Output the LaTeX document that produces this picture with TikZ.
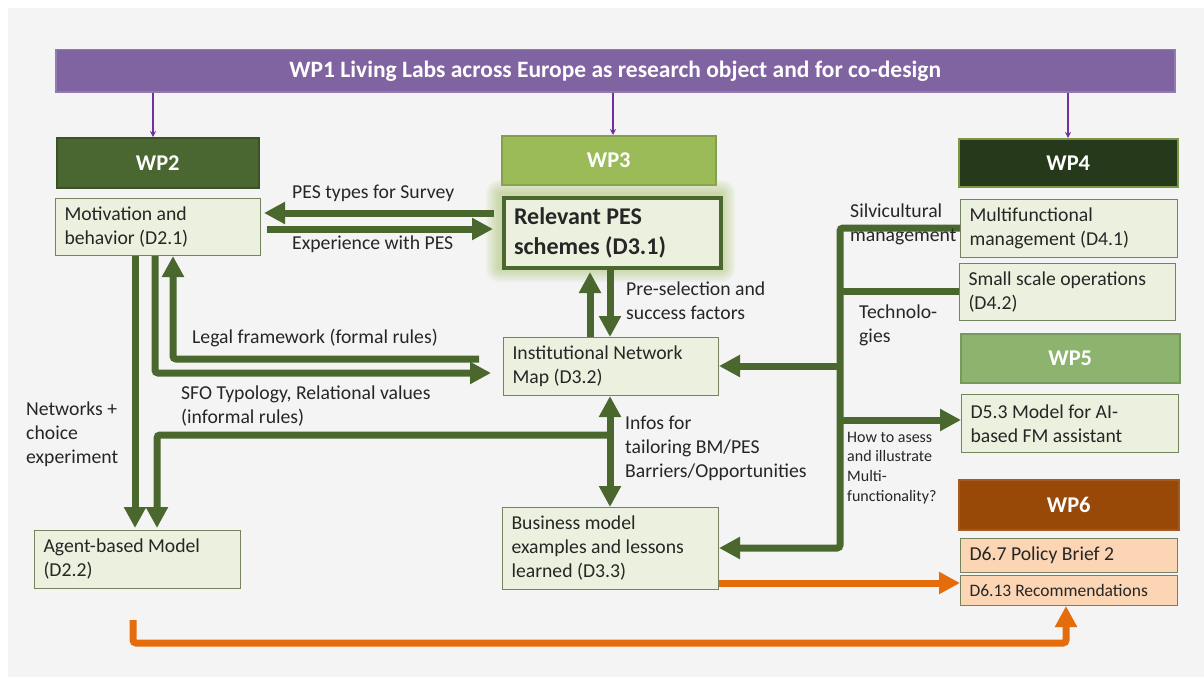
\documentclass[tikz,border=0pt]{standalone}
\usepackage{fontspec}
\setmainfont{Carlito}
\usetikzlibrary{arrows.meta}

\definecolor{bgc}{HTML}{F4F4F4}
\definecolor{wpone}{HTML}{8064A2}
\definecolor{linkc}{HTML}{7030A0}
\definecolor{flowc}{HTML}{4A672E}
\definecolor{orangec}{HTML}{E46C0A}
\definecolor{delfill}{HTML}{EBF1DE}
\definecolor{delline}{HTML}{76835F}
\definecolor{polfill}{HTML}{FCD5B5}
\definecolor{wptwo}{HTML}{4A6631}
\definecolor{wpthree}{HTML}{9BBB59}
\definecolor{wpfour}{HTML}{263A1B}
\definecolor{wpfive}{HTML}{8CB46E}
\definecolor{wpsix}{HTML}{984807}
\definecolor{txtc}{HTML}{262626}

\begin{document}
\begin{tikzpicture}[x=1pt, y=-1pt,
	txt/.style={text=txtc, font=\fontsize{19.7}{24}\selectfont, align=flush left, inner sep=0pt},
	deliv/.style={txt, draw=delline, fill=delfill, line width=1pt, anchor=north west, inner xsep=9pt, inner ysep=0pt},
	wp/.style 2 args={fill=#1, draw=#2, line width=1.5pt, anchor=north west, inner sep=0pt, text=white, font=\fontsize{22.5}{26}\selectfont\bfseries},
	wplink/.style={-{Stealth[length=6pt,width=6pt]}, linkc, line width=1.3pt},
	flowarrow/.style={-{Triangle[length=21pt,width=21pt]}, flowc, line width=7pt, rounded corners=3pt},
	feedarrow/.style={-{Triangle[length=21pt,width=21pt]}, orangec, line width=7pt, rounded corners=3pt},
	]

	\useasboundingbox (0,0) rectangle (1204,677);
	\fill[bgc] (8,8) rectangle (1204,677);

	% work packages
	\node[wp={wpone}{wpone!85!white}, minimum width=1119pt, minimum height=42pt, font=\fontsize{23.5}{26}\selectfont\bfseries] (wp1) at (55,49) {WP1 Living Labs across Europe as research object and for co-design};
	\node[wp={wptwo}{wptwo!80!black}, minimum width=202pt, minimum height=50pt] (wp2) at (56,137) {WP2};
	\node[wp={wpthree}{wpthree!85!black}, minimum width=214pt, minimum height=49pt] (wp3) at (501,135) {WP3};
	\node[wp={wpfour}{wpthree!80!black}, minimum width=219pt, minimum height=48pt] (wp4) at (958,138) {WP4};
	\node[wp={wpfive}{wpfive!85!black}, minimum width=219pt, minimum height=49pt] (wp5) at (960,333) {WP5};
	\node[wp={wpsix}{wpsix!90!white}, minimum width=220pt, minimum height=50pt] (wp6) at (958,479) {WP6};

	\draw[wplink] (wp1.south -| 153,0) -- (wp2.north -| 153,0);
	\draw[wplink] (wp1.south -| 613,0) -- (wp3.north -| 613,0);
	\draw[wplink] (wp1.south -| 1068,0) -- (wp4.north -| 1068,0);

	% soft halo round D3.1
	\foreach \g in {2,4,...,14}
		\fill[wpthree, opacity=0.08, rounded corners=\g pt] (500-\g,194-\g) rectangle (721+\g,268+\g);

	% deliverables
	\node[deliv, text width=187pt, minimum height=57pt] (mot) at (55,198) {Motivation and\\behavior (D2.1)};
	\node[deliv, text width=188pt, minimum height=58pt] (agent) at (34,530) {Agent-based Model\\(D2.2)};
	\node[deliv, draw=flowc, line width=4pt, inner xsep=10pt, text width=197pt, minimum height=70pt,
		font=\fontsize{24}{30}\selectfont\bfseries] (rel) at (502,196) {Relevant PES\\schemes (D3.1)};
	\node[deliv, text width=197pt, minimum height=58pt] (inst) at (503,337) {Institutional Network\\Map (D3.2)};
	\node[deliv, text width=198pt, minimum height=82pt] (bus) at (502,507) {Business model\\examples and lessons\\learned (D3.3)};
	\node[deliv, text width=199pt, minimum height=58pt] (multi) at (960,199) {Multifunctional\\management (D4.1)};
	\node[deliv, text width=198pt, minimum height=57pt] (small) at (959,263) {Small scale operations\\(D4.2)};
	\node[deliv, text width=199pt, minimum height=58pt] (dfive) at (961,394) {D5.3 Model for AI-\\based FM assistant};
	\node[deliv, fill=polfill, text width=199pt, minimum height=34pt] (dsixa) at (960,538) {D6.7 Policy Brief 2};
	\node[deliv, fill=polfill, text width=199pt, minimum height=30pt, font=\fontsize{17.5}{21}\selectfont] (dsixb) at (960,575) {D6.13 Recommendations};

	% WP2 <-> WP3
	\draw[flowarrow, shorten <=8pt, shorten >=3pt] (rel.west |- 0,213) -- (mot.east |- 0,213);
	\draw[flowarrow, shorten <=6pt, shorten >=9pt] (mot.east |- 0,229) -- (rel.west |- 0,229);
	\draw[flowarrow, shorten >=2pt] (inst.north -| 590,0) -- (rel.south -| 590,0);
	\draw[flowarrow] (rel.south -| 610,0) -- (inst.north -| 610,0);
	\draw[flowarrow, shorten <=24pt] (inst.west |- 0,359) -| (mot.south -| 173,0);
	\draw[flowarrow, shorten >=12pt] (mot.south -| 155,0) |- (inst.west |- 0,373);
	\draw[flowarrow, shorten >=2pt] (mot.south -| 135,0) -- (agent.north -| 135,0);
	\draw[flowarrow, {Triangle[length=21pt,width=21pt]}-{Triangle[length=21pt,width=21pt]}] (inst.south -| 610,0) -- (bus.north -| 610,0);
	\coordinate (infos) at (610,435);
	\draw[flowarrow, shorten >=2pt] (infos) -| (agent.north -| 157,0);

	% WP4 trunk
	\draw[flowarrow] (multi.west |- 0,228) -| (840,548) -- (bus.east |- 0,548);
	\draw[flowarrow, -] (small.west |- 0,291) -- (840,291);
	\draw[flowarrow] (840,366) -- (inst.east |- 0,366);
	\draw[flowarrow] (840,420) -- (dfive.west |- 0,420);

	% towards WP6
	\draw[feedarrow] (bus.east |- 0,583) -- (dsixb.west |- 0,583);
	\draw[feedarrow, shorten <=31pt] (agent.south -| 133,0) |- (1066,643) -- (dsixb.south -| 1066,0);

	% labels
	\node[txt, anchor=west] (lsurvey) at (292,193) {PES types for Survey};
	\node[txt, anchor=west] (lexp) at (292,244) {Experience with PES};
	\node[txt, anchor=west] (lpre) at (626,301) {Pre-selection and\\success factors};
	\node[txt, anchor=west] (llegal) at (192,338) {Legal framework (formal rules)};
	\node[txt, anchor=west] (lsfo) at (181,406) {SFO Typology, Relational values\\(informal rules)};
	\node[txt, anchor=west] (lnet) at (26,434) {Networks +\\choice\\experiment};
	\node[txt, anchor=west] (linfos) at (625,448) {Infos for\\tailoring BM/PES\\Barriers/Opportunities};
	\node[txt, anchor=west] (lsilv) at (850,224) {Silvicultural\\management};
	\node[txt, anchor=west] (ltech) at (859,325) {Technolo-\\gies};
	\node[txt, anchor=west, font=\fontsize{16}{19.7}\selectfont] (lhow) at (847,468) {How to asess\\and illustrate\\Multi-\\functionality?};

\end{tikzpicture}
\end{document}
